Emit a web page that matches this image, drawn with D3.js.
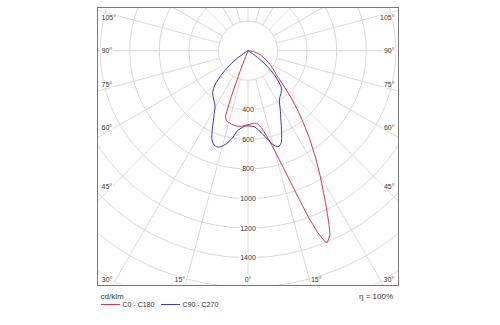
<!DOCTYPE html>
<html><head><meta charset="utf-8">
<script src="https://cdn.jsdelivr.net/npm/d3@7"></script>
<style>body{margin:0;background:#fff}svg{display:block}text{font-family:"Liberation Sans",Arial,sans-serif}</style>
</head><body>
<script>
// gamma angles (deg from nadir)
const gamma = [0,2.5,5,7.5,10,12.5,15,16,17,18,19,20,21,22,22.5,23,24,25,26,27,28,29,30,32.5,35,37.5,40,42.5,45,47.5,50,52.5,55,57.5,60,65,70,75,80,85,90,100,120,150,180];
// intensities cd/klm
const c0   = [500,496,492,500,530,595,703,765,842,940,1062,1205,1319,1397,1403,1390,1363,1296,1225,1155,1089,1030,975,845,725,615,520,435,350,290,249,225,200,180,158,123,95,70,40,18,0,0,0,0,0];
const c180 = [500,507,513,515,514,509,503,499,494,485,465,330,150,40,0,0,0,0,0,0,0,0,0,0,0,0,0,0,0,0,0,0,0,0,0,0,0,0,0,0,0,0,0,0,0];
const c90  = [508,511,517,540,575,612,660,670,678,680,672,660,635,608,595,582,555,528,505,485,467,448,430,395,378,366,352,333,290,240,185,135,80,35,0,0,0,0,0,0,0,0,0,0,0];
const c270 = [508,511,525,545,596,640,668,676,682,683,681,677,665,650,641,627,597,566,538,510,488,466,445,420,405,388,372,345,305,250,195,140,85,35,0,0,0,0,0,0,0,0,0,0,0];
const rings = [200,400,600,800,1000,1200,1400,1600,1800,2000,2200];
const radialTicks = [400,600,800,1000,1200,1400];
const angleTicks = [0,15,30,45,60,75,90,105];
const spokeAngles = d3.range(0,360,15);
const seriesNames = ["C0 - C180","C90 - C270"];
const unitLabel = "cd/klm";
const effLabel = "\u03B7 = 100%";

const W=500,H=325;
const fr = {x0:97.5,y0:7.5,x1:398.5,y1:285.5};
const cx=248, cy=50.7;
const r = d3.scaleLinear().domain([0,1400]).range([0,207]);
const rad = d=>d*Math.PI/180;
const gridCol="#d9d9d9", textCol="#333333";
const red="#d63a48", blue="#3b3bbf";

const svg=d3.select("body").append("svg").attr("width",W).attr("height",H);
svg.append("rect").attr("width",W).attr("height",H).attr("fill","#fff");
svg.append("defs").append("clipPath").attr("id","clip").append("rect")
  .attr("x",fr.x0).attr("y",fr.y0).attr("width",fr.x1-fr.x0).attr("height",fr.y1-fr.y0);
const g=svg.append("g").attr("clip-path","url(#clip)");
const gg=g.append("g").attr("transform",`translate(${cx},${cy})`);

gg.selectAll("circle.ring").data(rings.slice(1)).join("circle").attr("class","ring")
  .attr("r",d=>r(d)).attr("fill","none").attr("stroke",gridCol).attr("stroke-width",1);
gg.selectAll("line.spoke").data(spokeAngles).join("line").attr("class","spoke")
  .attr("x1",d=>r(rings[0])*Math.sin(rad(d))).attr("y1",d=>r(rings[0])*Math.cos(rad(d)))
  .attr("x2",d=>r(3000)*Math.sin(rad(d))).attr("y2",d=>r(3000)*Math.cos(rad(d)))
  .attr("stroke",gridCol).attr("stroke-width",1);
gg.append("circle").attr("r",r(rings[0])).attr("fill","#fff").attr("stroke",gridCol);

function bgText(parent,x,y,txt,anchor,baseline){
  const t=parent.append("text").attr("x",x).attr("y",y).attr("text-anchor",anchor)
    .attr("dominant-baseline",baseline).attr("font-size",7).attr("fill",textCol).text(txt);
  const b=t.node().getBBox();
  parent.insert("rect",()=>t.node()).attr("x",b.x-1).attr("y",b.y+0.5).attr("width",b.width+2).attr("height",b.height-1).attr("fill","#fff");
  return t;
}
// radial value labels
radialTicks.forEach(v=>bgText(gg,0,r(v),String(v),"middle","central"));

// curves
function pts(right,left){
  const p=[];
  for(let i=gamma.length-1;i>=0;i--) p.push({a:Math.PI-rad(gamma[i]),v:right[i]});
  for(let i=0;i<gamma.length;i++) p.push({a:Math.PI+rad(gamma[i]),v:left[i]});
  return p;
}
const line=d3.lineRadial().angle(d=>d.a).radius(d=>r(d.v)).curve(d3.curveLinearClosed);
gg.append("path").attr("d",line(pts(c0,c180))).attr("fill","none").attr("stroke",red).attr("stroke-width",1);
gg.append("path").attr("d",line(pts(c90,c270))).attr("fill","none").attr("stroke",blue).attr("stroke-width",1);

// angle labels
const lab=svg.append("g");
angleTicks.forEach(a=>{
  const sides = a===0?[0]:[-1,1];
  sides.forEach(s=>{
    const t=rad(a);
    const yBottom = fr.y1-6;
    const xHitB = cx + s*(fr.y1-cy)*Math.tan(t);
    if(a<90 && xHitB>fr.x0 && xHitB<fr.x1){
      if(s===0) bgText(lab,cx,yBottom,a+"\u00B0","middle","central");
      else bgText(lab,xHitB,yBottom,a+"\u00B0",s<0?"end":"start","central");
    } else {
      const xl = s<0? fr.x0+4 : fr.x1-4;
      const xm = s<0? fr.x0+11 : fr.x1-11;
      const dxm = Math.abs(xm-cx);
      if(a<90) bgText(lab,xl,cy+dxm/Math.tan(t)-1,a+"\u00B0",s<0?"start":"end","alphabetic");
      else if(a===90) bgText(lab,xl,cy,a+"\u00B0",s<0?"start":"end","central");
      else bgText(lab,xl,cy-dxm*Math.tan(t-Math.PI/2)+1.5,a+"\u00B0",s<0?"start":"end","hanging");
    }
  });
});

// frame
svg.append("rect").attr("x",fr.x0).attr("y",fr.y0).attr("width",fr.x1-fr.x0).attr("height",fr.y1-fr.y0)
  .attr("fill","none").attr("stroke","#7a7a7a").attr("stroke-width",1);

// legend
svg.append("text").attr("x",100.5).attr("y",299).attr("font-size",8).attr("fill",textCol).text(unitLabel);
svg.append("text").attr("x",393).attr("y",299).attr("text-anchor","end").attr("font-size",8).attr("fill",textCol).text(effLabel);
const lg=[{x:101,c:red},{x:161,c:blue}];
lg.forEach((d,i)=>{
  svg.append("line").attr("x1",d.x).attr("x2",d.x+19).attr("y1",304.5).attr("y2",304.5).attr("stroke",d.c).attr("stroke-width",1);
  svg.append("text").attr("x",d.x+21.5).attr("y",307).attr("font-size",7).attr("fill",textCol).text(seriesNames[i]);
});
</script>
</body></html>
